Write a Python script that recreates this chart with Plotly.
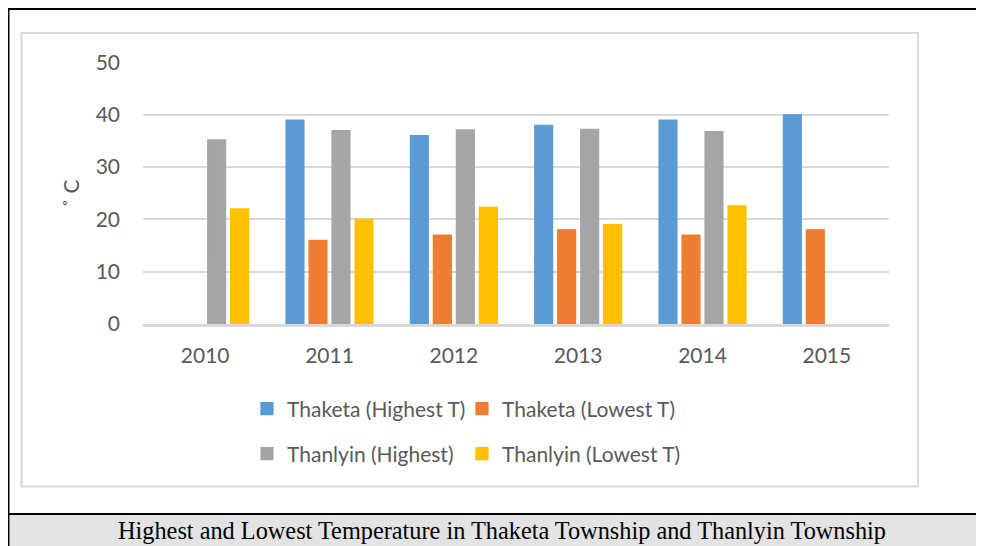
import plotly.graph_objects as go

years = ["2010", "2011", "2012", "2013", "2014", "2015"]
thaketa_high = [None, 39, 36, 38, 39, 40]
thaketa_low = [None, 16, 17, 18, 17, 18]
thanlyin_high = [35.2, 37, 37.1, 37.2, 36.8, None]
thanlyin_low = [22, 20, 22.3, 19, 22.6, None]

series_names = ["Thaketa (Highest T)", "Thaketa (Lowest T)", "Thanlyin (Highest)", "Thanlyin (Lowest T)"]
series_vals = [thaketa_high, thaketa_low, thanlyin_high, thanlyin_low]
colors = ["#5b9bd5", "#ed7d31", "#a5a5a5", "#ffc000"]
legends = ["legend", "legend2", "legend3", "legend4"]

W, H = 984, 546
OFF = 8  # page body margin offset
def px(x):
    return (x - OFF) / W
def py(y):
    return 1 - (y - OFF) / H

FONT = "Lato"
TXT = "#595959"
FS = 21

fig = go.Figure()
for name, vals, col, lg in zip(series_names, series_vals, colors, legends):
    fig.add_trace(go.Bar(x=years, y=vals, name=name, marker_color=col,
                         marker_line=dict(width=1.2, color=col), legend=lg))

legend_common = dict(orientation="h", xanchor="left", yanchor="middle",
                     font=dict(family=FONT, size=FS, color=TXT),
                     bgcolor="rgba(0,0,0,0)", itemclick=False)

col1, col2 = 247, 462
row1, row2 = 409, 454

fig.update_layout(
    width=W, height=H,
    margin=dict(l=0, r=0, t=0, b=0, pad=0, autoexpand=False),
    paper_bgcolor="white", plot_bgcolor="white",
    barmode="group", bargap=0.26, bargroupgap=0.22,
    font=dict(family=FONT, color=TXT),
    xaxis=dict(domain=[px(143), px(889)], showgrid=False, showline=True,
               linecolor="#d9d9d9", linewidth=2.5, ticks="",
               tickfont=dict(family=FONT, size=FS, color=TXT),
               ticklabelstandoff=11, fixedrange=True, automargin=False),
    yaxis=dict(domain=[py(324), py(62.5)], range=[0, 50], dtick=10,
               showgrid=True, gridcolor="#d9d9d9", gridwidth=1.5,
               zeroline=False, showline=False, ticks="",
               tickfont=dict(family=FONT, size=FS, color=TXT),
               ticklabelstandoff=22, automargin=False,
               title=dict(text="˚ C", font=dict(family=FONT, size=FS, color=TXT), standoff=10),
               fixedrange=True),
    legend=dict(x=px(col1), y=py(row1), **legend_common),
    legend2=dict(x=px(col2), y=py(row1), **legend_common),
    legend3=dict(x=px(col1), y=py(row2), **legend_common),
    legend4=dict(x=px(col2), y=py(row2), **legend_common),
    showlegend=True,
)

shapes = [
    # chart area frame
    dict(type="rect", xref="paper", yref="paper", x0=px(21.5), x1=px(918), y0=py(486.5), y1=py(33),
         line=dict(color="#d9d9d9", width=2), fillcolor="rgba(0,0,0,0)", layer="below"),
    # caption band
    dict(type="rect", xref="paper", yref="paper", x0=px(9.5), x1=1, y0=0, y1=py(515),
         line=dict(width=0), fillcolor="#e3e3e3", layer="below"),
    # outer black lines
    dict(type="line", xref="paper", yref="paper", x0=0, x1=0, y0=0, y1=py(8),
         line=dict(color="black", width=3)),
    dict(type="line", xref="paper", yref="paper", x0=0, x1=1, y0=py(9), y1=py(9),
         line=dict(color="black", width=2)),
    dict(type="line", xref="paper", yref="paper", x0=0, x1=1, y0=py(514), y1=py(514),
         line=dict(color="black", width=2)),
]
fig.update_layout(shapes=shapes)

fig.add_annotation(text="Highest and Lowest Temperature in Thaketa Township and Thanlyin Township",
                   xref="paper", yref="paper", x=px(502), y=py(530), showarrow=False,
                   xanchor="center", yanchor="middle",
                   font=dict(family="Liberation Serif", size=24.3, color="black"))

fig.write_html("out.html")
